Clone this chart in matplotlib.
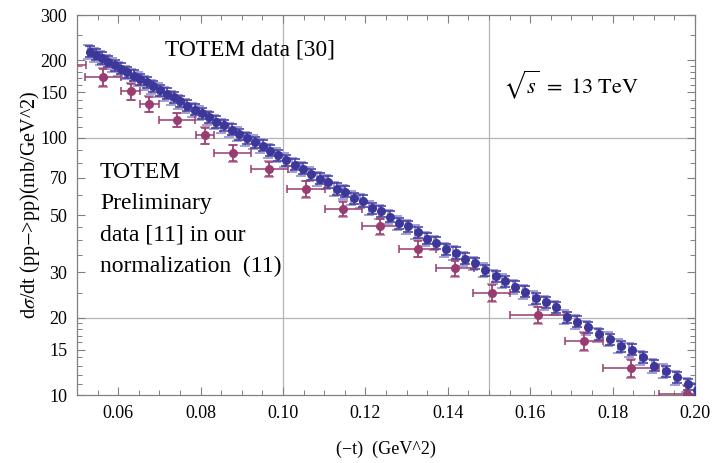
import matplotlib
matplotlib.use("Agg")
import matplotlib.pyplot as plt
import numpy as np
from matplotlib.ticker import FixedLocator, NullFormatter, MultipleLocator, FuncFormatter

plt.rcParams['font.family'] = ['Liberation Serif', 'DejaVu Serif']
plt.rcParams['mathtext.fontset'] = 'stix'

# TOTEM data [30]
blue_t = [0.05316, 0.05461, 0.05607, 0.05760, 0.05915, 0.06061, 0.06221, 0.06376, 0.06529, 0.06692,
          0.06852, 0.07015, 0.07177, 0.07347, 0.07507, 0.07677, 0.07857, 0.08027, 0.08204, 0.08381,
          0.08561, 0.08755, 0.08932, 0.09126, 0.09320, 0.09507, 0.09692, 0.09886, 0.10080, 0.10284,
          0.10485, 0.10680, 0.10891, 0.11100, 0.11303, 0.11512, 0.11716, 0.11934, 0.12153, 0.12379,
          0.12597, 0.12823, 0.13041, 0.13269, 0.13495, 0.13721, 0.13956, 0.14192, 0.14425, 0.14660,
          0.14903, 0.15158, 0.15383, 0.15638, 0.15881, 0.16133, 0.16383, 0.16633, 0.16886, 0.17143,
          0.17410, 0.17682, 0.17937, 0.18199, 0.18466, 0.18731, 0.19005, 0.19289, 0.19563, 0.19837,
          0.20060]
blue_ds = [216.1, 210.4, 204.3, 197.6, 191.8, 185.6, 179.6, 174.3, 169.2, 164.1,
           158.3, 153.3, 148.3, 143.5, 138.4, 133.2, 128.5, 124.8, 119.9, 115.2,
           111.6, 107.4, 103.4, 99.4, 96.2, 93.1, 89.2, 85.6, 81.9, 78.7,
           75.8, 72.2, 69.4, 67.4, 63.3, 61.8, 58.3, 56.8, 53.3, 51.7,
           49.3, 46.6, 45.2, 43.0, 40.5, 39.0, 36.8, 35.7, 33.9, 32.5,
           30.6, 28.9, 27.7, 26.4, 25.2, 23.8, 22.9, 21.9, 20.1, 19.3,
           18.3, 17.2, 16.5, 15.5, 15.0, 14.0, 13.0, 12.4, 11.7, 11.0,
           10.5]
blue_rel_err = 0.05       # statistical
blue_rel_err_sys = 0.062  # total (light bracket)

# TOTEM preliminary data [11] in our normalization
purple_t = [0.0480, 0.05638, 0.06303, 0.06755, 0.07434, 0.08100, 0.08779, 0.09667, 0.10566,
            0.11464, 0.12362, 0.13269, 0.14175, 0.15065, 0.16189, 0.17313, 0.18447, 0.19799]
purple_ds = [192.0, 171.7, 151.4, 135.2, 117.5, 102.1, 87.2, 75.8, 63.3,
             52.9, 45.2, 37.1, 31.1, 25.0, 20.5, 16.2, 12.7, 10.1]
purple_terr = [0.0043, 0.0044, 0.0023, 0.0023, 0.0044, 0.0022, 0.0045, 0.0045, 0.0046,
               0.0045, 0.0045, 0.0045, 0.0046, 0.0045, 0.0068, 0.0046, 0.0068, 0.0068]
purple_rel_err = [0.07, 0.075, 0.07, 0.065, 0.06, 0.07, 0.07, 0.065, 0.07,
                  0.065, 0.065, 0.07, 0.07, 0.07, 0.07, 0.075, 0.075, 0.075]

xticks = [0.06, 0.08, 0.10, 0.12, 0.14, 0.16, 0.18, 0.20]
yticks = [10, 15, 20, 30, 50, 70, 100, 150, 200, 300]

blue = '#3d3799'
blue_light = '#9a96d6'
purple = '#993d70'
purple_light = '#c98fb0'

fig = plt.figure(figsize=(7.21, 4.63), dpi=100)
ax = fig.add_axes([77/721, 1-395/463, (695-77)/721, (395-15)/463])
ax.set_yscale('log')
ax.set_xlim(0.05, 0.20)
ax.set_ylim(10, 300)

bt = np.array(blue_t)
bd = np.array(blue_ds)
pt = np.array(purple_t)
pd_ = np.array(purple_ds)
pr = np.array(purple_rel_err)

# light bracket (total uncertainty), slightly offset
ax.errorbar(bt - 0.0006, bd, yerr=bd*blue_rel_err_sys, fmt='none', ecolor=blue_light,
            elinewidth=1.3, capsize=3.5, capthick=1.3, zorder=2)
ax.errorbar(bt, bd, yerr=bd*blue_rel_err, fmt='o', color=blue, ms=5.5, mec=blue,
            ecolor=blue, elinewidth=1.1, capsize=3.5, capthick=1.1, zorder=3)

ax.errorbar(pt, pd_, yerr=pd_*pr*1.1, fmt='none', ecolor=purple_light,
            elinewidth=1.3, capsize=3.8, capthick=1.3, zorder=2)
ax.errorbar(pt, pd_, xerr=purple_terr, yerr=pd_*pr, fmt='o', color=purple, ms=5.5, mec=purple,
            ecolor=purple, elinewidth=1.1, capsize=3.2, capthick=1.1, zorder=3)

# grid lines
for gx in [0.10, 0.15]:
    ax.axvline(gx, color='#b5b5b5', lw=0.9, zorder=1)
for gy in [20, 100]:
    ax.axhline(gy, color='#b5b5b5', lw=0.9, zorder=1)

ax.xaxis.set_major_locator(FixedLocator(xticks))
ax.xaxis.set_minor_locator(MultipleLocator(0.005))
ax.xaxis.set_major_formatter(FuncFormatter(lambda v, p: f"{v:.2f}"))
ax.yaxis.set_major_locator(FixedLocator(yticks))
minor_y = [11, 12, 13, 14, 16, 17, 18, 19, 25, 35, 40, 45, 60, 80, 90, 110, 120, 130, 140,
           160, 170, 180, 190, 250]
ax.yaxis.set_minor_locator(FixedLocator(minor_y))
ax.yaxis.set_major_formatter(FuncFormatter(lambda v, p: f"{int(v)}"))
ax.yaxis.set_minor_formatter(NullFormatter())

for sp in ax.spines.values():
    sp.set_color('#808080')
    sp.set_linewidth(0.9)
ax.tick_params(which='both', direction='in', top=True, right=True, color='#808080',
               labelsize=13, labelcolor='black')
ax.tick_params(which='major', length=6, width=0.8, pad=7)
ax.tick_params(which='minor', length=3.5, width=0.7)

ax.set_ylabel(r'd$\sigma$/dt (pp$-$>pp)(mb/GeV^2)', fontsize=14.5, va='center')
ax.yaxis.set_label_coords((30 - 77) / 618, 0.5)
ax.set_xlabel('(−t)  (GeV^2)', fontsize=13, labelpad=14)

def ftext(x, y, s, **kw):
    fig.text(x/721, 1 - y/463, s, **kw)

ftext(165, 50, 'TOTEM data [30]', fontsize=16.8, va='center', ha='left')
ftext(503, 85, r'$\sqrt{s}\ =\ 13\ \mathrm{TeV}$', fontsize=16, va='center', ha='left')
left_lines = ['TOTEM', 'Preliminary', 'data [11] in our', 'normalization  (11)']
for i, s in enumerate(left_lines):
    ftext(100, 172 + 31.5*i, s, fontsize=17, va='center', ha='left')

fig.savefig('out.png', dpi=100)
